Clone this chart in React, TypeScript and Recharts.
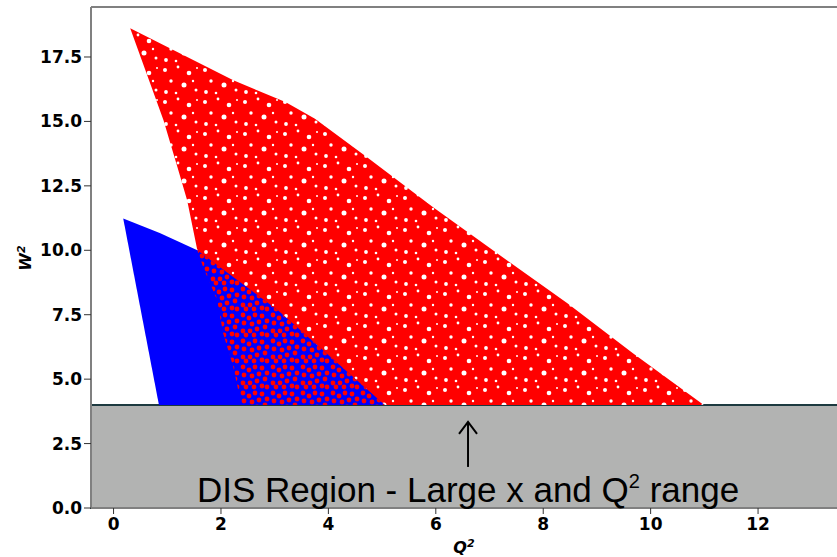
import React from 'react';
import {
  ScatterChart,
  Scatter,
  XAxis,
  YAxis,
  ReferenceArea,
  ReferenceLine,
  ReferenceDot,
  Label,
} from 'recharts';

// Axis ranges and ticks
const X_MIN = -0.42;
const X_MAX = 13.47;
const Y_MAX = 19.44;
const xTicks = [0, 2, 4, 6, 8, 10, 12];
const yTicks = [0, 2.5, 5, 7.5, 10, 12.5, 15, 17.5];

// Outline of the red event cloud (Q², W²), traced clockwise from the tip
const redQ2 = [0.31, 2.23, 3.2, 3.75, 4.72, 5.95, 7.2, 8.45, 9.67, 10.99, 2.38, 2.23, 2.04, 1.93, 1.67, 1.56, 1.37, 1.19, 0.93];
const redW2 = [18.62, 16.6, 15.75, 15.1, 13.61, 11.67, 9.8, 7.94, 6.0, 4.0, 4.0, 5.47, 6.78, 8.06, 9.34, 10.0, 11.94, 13.22, 15.05];

// Outline of the blue event cloud
const blueQ2 = [0.18, 0.86, 1.56, 3.06, 5.05, 0.845];
const blueW2 = [11.23, 10.67, 10.0, 7.67, 4.0, 4.0];

// Region where red events sit on top of the blue cloud
const mixQ2 = [1.56, 3.06, 5.05, 2.38, 2.23, 2.04, 1.93, 1.67];
const mixW2 = [10.0, 7.67, 4.0, 4.0, 5.47, 6.78, 8.06, 9.34];

// DIS region box and annotation anchors
const disBox = { x1: X_MIN, x2: 14.5, y1: 0, y2: 4 };
const disTextAt = { q2: 6.6, w2: 0.23 };
const disArrowAt = { q2: 6.6, w2: 3.34 };

const toPts = (xs: number[], ys: number[]) => xs.map((x, i) => ({ q2: x, w2: ys[i] }));
const redData = toPts(redQ2, redW2);
const blueData = toPts(blueQ2, blueW2);
const mixData = toPts(mixQ2, mixW2);

const holes = [
  [5, 6, 2.0], [18, 3, 1.4], [29, 9, 2.3], [11, 17, 1.7], [24, 21, 2.5],
  [36, 26, 1.5], [6, 28, 1.9], [33, 17, 1.2], [16, 29, 1.3], [37, 4, 1.0],
];
const blobs = [
  [3, 3], [9, 6], [15, 3], [22, 4], [27, 9], [4, 11], [12, 12], [19, 10],
  [25, 15], [3, 19], [10, 19], [17, 17], [22, 22], [27, 23], [6, 23], [14, 23],
];

const Defs = () => (
  <defs>
    <pattern id="redSpeck" width="40" height="32" patternUnits="userSpaceOnUse">
      <rect width="40" height="32" fill="#ff0000" />
      {holes.map((h, i) => (
        <circle key={i} cx={h[0]} cy={h[1]} r={h[2]} fill="#ffffff" />
      ))}
    </pattern>
    <pattern id="redDots" width="30" height="26" patternUnits="userSpaceOnUse">
      {blobs.map((b, i) => (
        <circle key={i} cx={b[0]} cy={b[1]} r={2.4} fill="#ff0000" />
      ))}
    </pattern>
  </defs>
);

const polygon = (fill: string, withDefs = false) => (props: any) => {
  const pts: { x: number; y: number }[] = props.points || [];
  if (!pts.length) return <g />;
  const d = pts.map((p, i) => `${i ? 'L' : 'M'}${p.x},${p.y}`).join(' ') + ' Z';
  return (
    <g>
      {withDefs ? <Defs /> : null}
      <path d={d} fill={fill} stroke="none" />
    </g>
  );
};

const noDot = () => <g />;

const XLabel = (props: any) => {
  const vb = props.viewBox || { x: 0, y: 0, width: 0 };
  return (
    <text
      x={vb.x + vb.width / 2}
      y={vb.y + 45}
      textAnchor="middle"
      fontFamily="DejaVu Sans"
      fontWeight="bold"
      fontStyle="italic"
      fontSize={16}
      fill="#000"
    >
      Q<tspan dy={-6} fontSize={11}>2</tspan>
    </text>
  );
};

const YLabel = () => (
  <text
    x={31}
    y={258}
    transform="rotate(-90, 31, 258)"
    textAnchor="middle"
    fontFamily="DejaVu Sans"
    fontWeight="bold"
    fontStyle="italic"
    fontSize={16}
    fill="#000"
  >
    W<tspan dy={-6} fontSize={11}>2</tspan>
  </text>
);

const DisText = (props: any) => (
  <text
    x={props.cx}
    y={props.cy}
    textAnchor="middle"
    fontFamily="'Liberation Sans', Arial, sans-serif"
    fontSize={35}
    fill="#000"
    style={{ whiteSpace: 'pre' }}
  >
    DIS Region - Large x and Q
    <tspan dy={-14} fontSize={20}>2</tspan>
    <tspan dy={14}>{' range'}</tspan>
  </text>
);

const DisArrow = (props: any) => {
  const { cx, cy } = props;
  return (
    <g stroke="#000" strokeWidth={2} fill="none">
      <line x1={cx} y1={cy} x2={cx} y2={cy + 45} />
      <polyline points={`${cx - 9},${cy + 12} ${cx},${cy} ${cx + 9},${cy + 12}`} />
    </g>
  );
};

const tickStyle = { fontFamily: 'DejaVu Sans', fontWeight: 'bold', fontSize: 17, fill: '#000' } as any;

export default function App() {
  return (
    <div style={{ position: 'absolute', left: 0, top: 0, width: 837, height: 557, background: '#fff' }}>
      <ScatterChart width={837} height={557} margin={{ top: 7, right: 0, bottom: 0, left: 0 }}>
        <XAxis
          type="number"
          dataKey="q2"
          domain={[X_MIN, X_MAX]}
          ticks={xTicks}
          interval={0}
          allowDataOverflow
          height={49}
          tickSize={6}
          tickMargin={4}
          tick={tickStyle}
          axisLine={{ stroke: '#808080', strokeWidth: 2 }}
          tickLine={{ stroke: '#333' }}
        >
          <Label content={XLabel} />
        </XAxis>
        <YAxis
          type="number"
          dataKey="w2"
          domain={[0, Y_MAX]}
          ticks={yTicks}
          interval={0}
          allowDataOverflow
          width={91}
          tickSize={7}
          tickMargin={2}
          tick={tickStyle}
          tickFormatter={(v: number) => v.toFixed(1)}
          axisLine={{ stroke: '#808080', strokeWidth: 2 }}
          tickLine={{ stroke: '#333' }}
        >
          <Label content={YLabel} />
        </YAxis>
        <ReferenceLine y={Y_MAX} stroke="#808080" strokeWidth={2} />
        <Scatter
          data={redData}
          fill="#ff0000"
          line={polygon('url(#redSpeck)', true)}
          lineType="joint"
          shape={noDot}
          isAnimationActive={false}
        />
        <Scatter
          data={blueData}
          fill="#0000ff"
          line={polygon('#0000ff')}
          lineType="joint"
          shape={noDot}
          isAnimationActive={false}
        />
        <Scatter
          data={mixData}
          fill="#ff0000"
          line={polygon('url(#redDots)', true)}
          lineType="joint"
          shape={noDot}
          isAnimationActive={false}
        />
        <ReferenceArea
          x1={disBox.x1}
          x2={disBox.x2}
          y1={disBox.y1}
          y2={disBox.y2}
          fill="#b2b3b2"
          fillOpacity={1}
          stroke="#1d3a40"
          strokeWidth={2}
          ifOverflow="visible"
        />
        <ReferenceDot x={disArrowAt.q2} y={disArrowAt.w2} shape={DisArrow} ifOverflow="visible" />
        <ReferenceDot x={disTextAt.q2} y={disTextAt.w2} shape={DisText} ifOverflow="visible" />
      </ScatterChart>
    </div>
  );
}
